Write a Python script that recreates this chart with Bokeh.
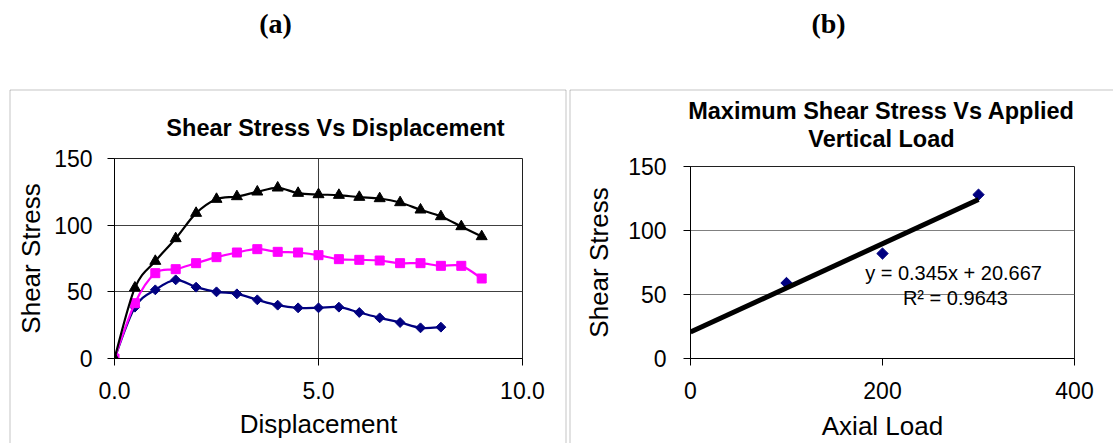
import numpy as np
from bokeh.plotting import figure
from bokeh.layouts import GridBox
from bokeh.models import (Range1d, FixedTicker, Label, BoxAnnotation,
                          ColumnDataSource, NumeralTickFormatter)
from bokeh.embed import file_html
from bokeh.resources import INLINE

# Shear box test: displacement readings and shear stress for three vertical loads
displacement = [0.0, 0.5, 1.0, 1.5, 2.0, 2.5, 3.0, 3.5, 4.0, 4.5,
                5.0, 5.5, 6.0, 6.5, 7.0, 7.5, 8.0, 8.5, 9.0]
shear_load_100 = [0, 38.5, 51.5, 59, 53.5, 50, 48.5, 44, 40, 38,
                  38, 38.5, 34.5, 30.5, 27, 23, 23.5]
shear_load_200 = [0, 41.5, 64, 67, 71.5, 76, 79.5, 82, 80, 79.5,
                  77.5, 74.5, 74, 73.5, 71.5, 71.5, 69.5, 69.5, 60]
shear_load_300 = [0, 53, 73, 90, 109, 119.5, 121.5, 125, 128, 124,
                  123, 122.5, 121, 120, 117, 111.5, 106.5, 99, 91.5]

# Peak shear stress against applied vertical (axial) load, with linear fit
axial_load = [100, 200, 300]
max_shear = [59, 82, 128]
fit_slope = 0.345
fit_intercept = 20.667
fit_r2 = 0.9643

x_ticks_a = [0, 5, 10]
x_ticks_b = [0, 200, 400]
y_ticks = [0, 50, 100, 150]

W, H = 1113, 443
SANS = "Liberation Sans"
SERIF = "Liberation Serif"
BOX = "#404040"


def smooth(xs, ys):
    """Cubic Bezier segments (Catmull-Rom style) through the given points."""
    x = np.asarray(xs, float)
    y = np.asarray(ys, float)
    n = len(x)
    d = dict(x0=[], y0=[], x1=[], y1=[], cx0=[], cy0=[], cx1=[], cy1=[])
    for i in range(n - 1):
        a, b = max(i - 1, 0), min(i + 2, n - 1)
        d["x0"].append(x[i]); d["y0"].append(y[i])
        d["x1"].append(x[i + 1]); d["y1"].append(y[i + 1])
        d["cx0"].append(x[i] + (x[i + 1] - x[a]) / 6)
        d["cy0"].append(y[i] + (y[i + 1] - y[a]) / 6)
        d["cx1"].append(x[i + 1] - (x[b] - x[i]) / 6)
        d["cy1"].append(y[i + 1] - (y[b] - y[i]) / 6)
    return ColumnDataSource(d)


def style(p, x_ticks, grid_color, xgrid, y_std, y_label_std, x_label_std):
    p.background_fill_color = "white"
    p.border_fill_color = None
    p.outline_line_color = "#202020"
    p.outline_line_width = 1
    for ax in (p.xaxis[0], p.yaxis[0]):
        ax.axis_line_color = "black"
        ax.axis_line_width = 1
        ax.major_tick_line_color = "black"
        ax.major_tick_out = 7
        ax.major_tick_in = 0
        ax.minor_tick_line_color = None
        ax.major_label_text_font = SANS
        ax.major_label_text_font_size = "23px"
        ax.major_label_text_color = "black"
        ax.axis_label_text_font = SANS
        ax.axis_label_text_font_size = "26px"
        ax.axis_label_text_font_style = "normal"
        ax.axis_label_text_color = "black"
    p.xaxis[0].ticker = FixedTicker(ticks=x_ticks)
    p.yaxis[0].ticker = FixedTicker(ticks=y_ticks)
    p.xaxis[0].major_label_standoff = 16
    p.xaxis[0].axis_label_standoff = x_label_std
    p.yaxis[0].major_label_standoff = y_std
    p.yaxis[0].axis_label_standoff = y_label_std
    p.ygrid.grid_line_color = grid_color
    p.ygrid.ticker = FixedTicker(ticks=y_ticks)
    if xgrid:
        p.xgrid.grid_line_color = grid_color
        p.xgrid.ticker = FixedTicker(ticks=x_ticks)
    else:
        p.xgrid.grid_line_color = None


# ---- page backdrop: panel captions, chart boxes and chart titles ----
bg = figure(width=W, height=H, x_range=Range1d(0, W), y_range=Range1d(H, 0),
            min_border=0, toolbar_location=None, output_backend="svg",
            title=None, x_axis_type=None, y_axis_type=None, frame_align=False)
bg.grid.grid_line_color = None
bg.outline_line_color = None
bg.background_fill_color = "white"
bg.border_fill_color = "white"

for l, r in ((9.5, 565.5), (569.5, W + 20)):
    bg.add_layout(BoxAnnotation(left=l, right=r, top=89.5, bottom=H + 20,
                                fill_alpha=0, line_color=BOX, line_width=1))

captions = [("(a)", 275, 23), ("(b)", 828, 23)]
for txt, x, y in captions:
    bg.add_layout(Label(x=x, y=y, text=txt, text_align="center",
                        text_baseline="middle", text_font=SERIF,
                        text_font_style="bold", text_font_size="28px",
                        text_color="black"))

chart_titles = [("Shear Stress Vs Displacement", 335, 127),
                ("Maximum Shear Stress Vs Applied", 881, 110),
                ("Vertical Load", 881, 138)]
for txt, x, y in chart_titles:
    bg.add_layout(Label(x=x, y=y, text=txt, text_align="center",
                        text_baseline="middle", text_font=SANS,
                        text_font_style="bold", text_font_size="23.5px",
                        text_color="black"))

# ---- (a) shear stress vs displacement ----
pa = figure(width=567, height=H, x_range=Range1d(0, 10), y_range=Range1d(0, 150),
            min_border_left=114, min_border_right=45, min_border_top=158,
            min_border_bottom=85, toolbar_location=None, output_backend="svg",
            title=None, frame_align=False,
            x_axis_label="Displacement", y_axis_label="Shear Stress")
style(pa, x_ticks_a, "#404040", True, 15, 5, 7)
pa.xaxis[0].formatter = NumeralTickFormatter(format="0.0")

series = [
    (shear_load_100, "#000080", "square", 7, np.pi / 4),
    (shear_load_200, "#FF00FF", "square", 9, 0.0),
    (shear_load_300, "black", "triangle", 11, 0.0),
]
for ys, color, marker, size, angle in series:
    xs = displacement[:len(ys)]
    pa.bezier(x0="x0", y0="y0", x1="x1", y1="y1", cx0="cx0", cy0="cy0",
              cx1="cx1", cy1="cy1", source=smooth(xs, ys),
              line_color=color, line_width=2.2)
    pa.scatter(xs, ys, marker=marker, size=size, angle=angle,
               fill_color=color, line_color=color)

# ---- (b) maximum shear stress vs applied vertical load ----
pb = figure(width=546, height=H, x_range=Range1d(0, 400), y_range=Range1d(0, 150),
            min_border_left=123, min_border_right=39, min_border_top=166,
            min_border_bottom=85, toolbar_location=None, output_backend="svg",
            title=None, frame_align=False,
            x_axis_label="Axial Load", y_axis_label="Shear Stress")
style(pb, x_ticks_b, "#808080", False, 17, 11, 9)

pb.scatter(axial_load, max_shear, marker="square", angle=np.pi / 4, size=8,
           fill_color="#000080", line_color="#000080")
fit_x = [0, max(axial_load)]
fit_y = [fit_intercept + fit_slope * v for v in fit_x]
pb.line(fit_x, fit_y, line_color="black", line_width=5)

fit_labels = [(f"y = {fit_slope}x + {fit_intercept}", 274, 66.5),
              (f"R\u00b2 = {fit_r2}", 276, 47)]
for txt, x, y in fit_labels:
    pb.add_layout(Label(x=x, y=y, text=txt, text_align="center",
                        text_baseline="middle", text_font=SANS,
                        text_font_size="20px", text_color="black"))

page = GridBox(children=[(bg, 0, 0, 1, 2), (pa, 0, 0), (pb, 0, 1)], spacing=0)
open("out.html", "w").write(file_html(page, INLINE))
